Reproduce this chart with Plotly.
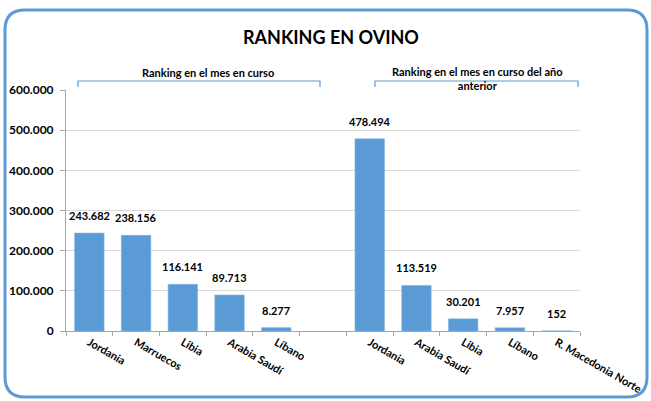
import plotly.graph_objects as go

# ---- data ----
categories = ["Jordania", "Marruecos", "Libia", "Arabia Saudí", "Líbano", "",
              "Jordania", "Arabia Saudí", "Libia", "Líbano", "R. Macedonia Norte"]
values = [243682, 238156, 116141, 89713, 8277, None,
          478494, 113519, 30201, 7957, 152]
group_labels = ["Ranking en el mes en curso",
                "Ranking en el mes en curso del año<br>anterior"]
y_ticks = [0, 100000, 200000, 300000, 400000, 500000, 600000]

W, H = 651, 401
L, R, T, B = 66, 71, 90, 70
PW, PH = W - L - R, H - T - B

def px(x):  # pixel -> paper x
    return (x - L) / PW

def py(y):  # pixel -> paper y
    return (H - B - y) / PH

FONT = "Lato"
BLUE = "#5B9BD5"

xs = list(range(len(categories)))
bx = [x for x, v in zip(xs, values) if v is not None]
bv = [v for v in values if v is not None]

fig = go.Figure()
fig.add_trace(go.Bar(x=bx, y=bv, marker=dict(color=BLUE, line=dict(color="#7FB2E0", width=0.6)),
                     width=0.63, hoverinfo="skip"))

annotations = []
for x, v in zip(bx, bv):
    annotations.append(dict(x=x, y=v, xref="x", yref="y", text=f"{v:,}".replace(",", "."),
                            showarrow=False, yanchor="bottom", yshift=9,
                            font=dict(family=FONT, size=11, color="#000000", weight="bold")))

# title
annotations.append(dict(x=px(331), y=py(37), xref="paper", yref="paper", text="RANKING EN OVINO",
                        showarrow=False, xanchor="center", yanchor="middle",
                        font=dict(family=FONT, size=18, color="#000000", weight="bold")))
# group labels
annotations.append(dict(x=px(208), y=py(72), xref="paper", yref="paper", text=group_labels[0],
                        showarrow=False, xanchor="center", yanchor="middle",
                        font=dict(family=FONT, size=11, color="#000000", weight="bold")))
annotations.append(dict(x=px(477), y=py(79), xref="paper", yref="paper", text=group_labels[1],
                        showarrow=False, xanchor="center", yanchor="middle",
                        font=dict(family=FONT, size=11, color="#000000", weight="bold")))

shapes = []
# brackets
for x0, x1 in [(78, 320), (375, 578)]:
    shapes.append(dict(type="path", xref="paper", yref="paper",
                       path=f"M {px(x0)},{py(87)} L {px(x0)},{py(81)} L {px(x1)},{py(81)} L {px(x1)},{py(87)}",
                       line=dict(color=BLUE, width=1.2)))
# rounded frame
x0, x1, y0, y1, r = 5, 647, 10, 397, 20
path = (f"M {px(x0)},{py(y0 + r)} Q {px(x0)},{py(y0)} {px(x0 + r)},{py(y0)} "
        f"L {px(x1 - r)},{py(y0)} Q {px(x1)},{py(y0)} {px(x1)},{py(y0 + r)} "
        f"L {px(x1)},{py(y1 - r)} Q {px(x1)},{py(y1)} {px(x1 - r)},{py(y1)} "
        f"L {px(x0 + r)},{py(y1)} Q {px(x0)},{py(y1)} {px(x0)},{py(y1 - r)} Z")
shapes.append(dict(type="path", xref="paper", yref="paper", path=path,
                   line=dict(color=BLUE, width=3), layer="above"))

fig.update_layout(
    width=W, height=H,
    margin=dict(l=L, r=R, t=T, b=B, pad=0),
    paper_bgcolor="white", plot_bgcolor="white",
    separators=",.",
    showlegend=False,
    annotations=annotations,
    shapes=shapes,
    xaxis=dict(range=[-0.5, len(categories) - 0.5], tickmode="array", tickvals=xs, ticktext=categories,
               tickangle=30, ticks="", showgrid=False, zeroline=False, automargin=False,
               showline=True, linecolor="#A6A6A6", linewidth=1,
               tickfont=dict(family=FONT, size=11, color="#000000", weight="bold"),
               minor=dict(tick0=-0.5, dtick=1, ticks="outside", ticklen=4, tickcolor="#A6A6A6", showgrid=False)),
    yaxis=dict(range=[0, 600000], tickmode="array", tickvals=y_ticks, tickformat=",d",
               ticks="outside", ticklen=5, tickcolor="#A6A6A6", automargin=False,
               showline=True, linecolor="#A6A6A6", linewidth=1,
               showgrid=True, gridcolor="#D9D9D9", gridwidth=1, zeroline=False,
               ticklabelstandoff=4,
               tickfont=dict(family=FONT, size=12, color="#000000", weight="bold")),
)

fig.write_html("out.html", config={"displayModeBar": False},
               post_script="document.body.style.margin='0';document.body.style.overflow='hidden';")
